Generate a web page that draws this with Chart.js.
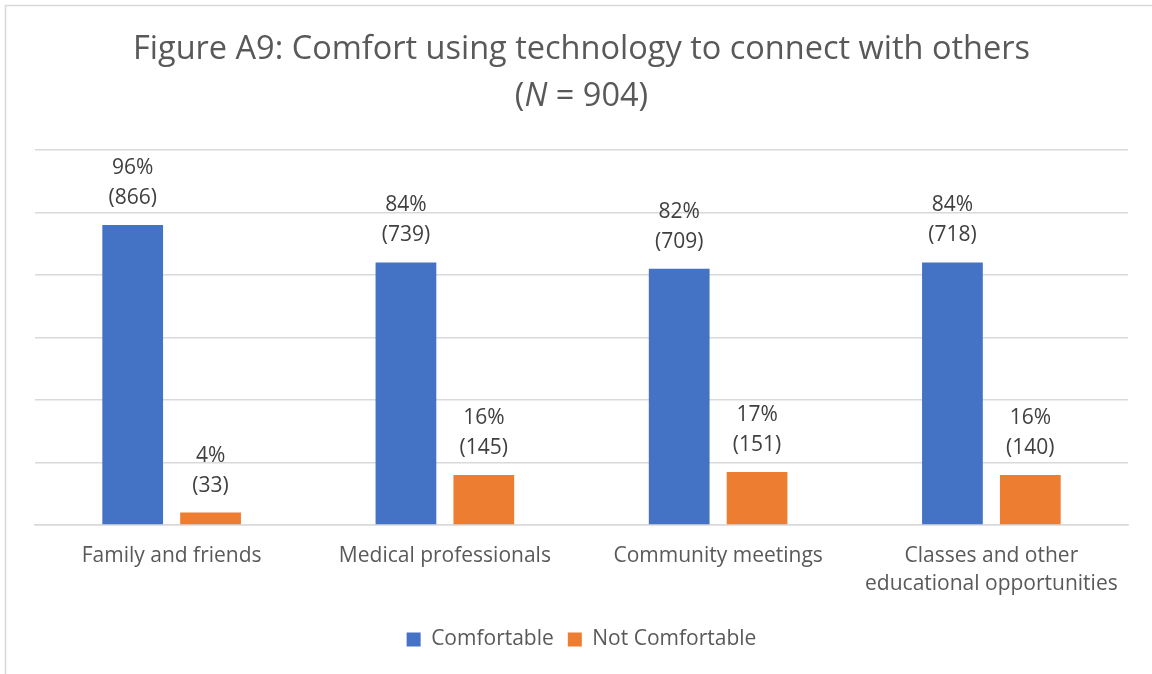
<!DOCTYPE html>
<html>
<head>
<meta charset="utf-8">
<title>Figure A9</title>
<script src="https://cdn.jsdelivr.net/npm/chart.js@4"></script>
<style>
    html, body { margin: 0; padding: 0; background: #fff; }
    canvas { display: block; }
</style>
</head>
<body>
<canvas id="comfortChart" width="1152" height="674"></canvas>
<script>
const categories = [
    'Family and friends',
    'Medical professionals',
    'Community meetings',
    ['Classes and other', 'educational opportunities']
];
const comfortablePct = [96, 84, 82, 84];
const comfortableCount = [866, 739, 709, 718];
const notComfortablePct = [4, 16, 17, 16];
const notComfortableCount = [33, 145, 151, 140];

const FONT = "'Open Sans', 'Noto Sans', sans-serif";
const TEXT = '#595959';

// title with the italic N, drawn on the canvas
const titlePlugin = {
    id: 'figTitle',
    afterDraw(chart) {
        const c = chart.ctx;
        const area = chart.chartArea;
        const cx = (area.left + area.right) / 2;
        c.save();
        c.fillStyle = TEXT;
        c.textBaseline = 'middle';
        c.textAlign = 'center';
        c.font = '32.5px ' + FONT;
        c.fillText('Figure A9: Comfort using technology to connect with others', cx, 50);

        const parts = [['(', ''], ['N', 'italic '], [' = 904)', '']];
        let total = 0;
        parts.forEach(p => { c.font = p[1] + '32.5px ' + FONT; total += c.measureText(p[0]).width; });
        let x = cx - total / 2;
        c.textAlign = 'left';
        parts.forEach(p => {
            c.font = p[1] + '32.5px ' + FONT;
            c.fillText(p[0], x, 97);
            x += c.measureText(p[0]).width;
        });
        c.restore();
    }
};

// "96%" over "(866)" above each bar
const barLabels = [
    { pct: comfortablePct, count: comfortableCount },
    { pct: notComfortablePct, count: notComfortableCount }
];
const labelPlugin = {
    id: 'barLabels',
    afterDatasetsDraw(chart) {
        const c = chart.ctx;
        c.save();
        c.fillStyle = '#404040';
        c.font = '21px ' + FONT;
        c.textAlign = 'center';
        c.textBaseline = 'middle';
        chart.data.datasets.forEach((ds, i) => {
            chart.getDatasetMeta(i).data.forEach((bar, j) => {
                c.fillText(barLabels[i].pct[j] + '%', bar.x, bar.y - 57);
                c.fillText('(' + barLabels[i].count[j] + ')', bar.x, bar.y - 27);
            });
        });
        c.restore();
    }
};

// thin frame round the figure
const framePlugin = {
    id: 'frame',
    beforeDraw(chart) {
        const c = chart.ctx;
        c.save();
        c.strokeStyle = '#d9d9d9';
        c.lineWidth = 1.5;
        c.strokeRect(5.5, 5.5, chart.width + 20, chart.height + 20);
        c.restore();
    }
};

document.addEventListener('DOMContentLoaded', () => {
    const ctx = document.getElementById('comfortChart').getContext('2d');

    new Chart(ctx, {
        type: 'bar',
        data: {
            labels: categories,
            datasets: [{
                label: 'Comfortable',
                data: comfortablePct,
                backgroundColor: '#4472C4'
            }, {
                label: 'Not Comfortable',
                data: notComfortablePct,
                backgroundColor: '#ED7D31'
            }]
        },
        options: {
            responsive: false,
            animation: false,
            categoryPercentage: 0.57,
            barPercentage: 0.78,
            layout: {
                padding: { top: 150, left: 35, right: 24, bottom: 14 }
            },
            scales: {
                y: {
                    min: 0,
                    max: 120,
                    ticks: { display: false, stepSize: 20 },
                    grid: { color: '#d9d9d9', lineWidth: 1.5, drawTicks: false },
                    border: { display: false }
                },
                x: {
                    grid: { display: false, drawTicks: false },
                    border: { color: '#d9d9d9', width: 1.5 },
                    ticks: {
                        color: TEXT,
                        padding: 16,
                        font: { family: FONT, size: 21, lineHeight: 1.38 }
                    }
                }
            },
            plugins: {
                title: { display: false },
                tooltip: { enabled: false },
                legend: {
                    position: 'bottom',
                    labels: {
                        color: TEXT,
                        boxWidth: 14,
                        boxHeight: 14,
                        padding: 14,
                        font: { family: FONT, size: 21 }
                    }
                }
            }
        },
        plugins: [framePlugin, labelPlugin, titlePlugin]
    });
});
</script>
</body>
</html>
